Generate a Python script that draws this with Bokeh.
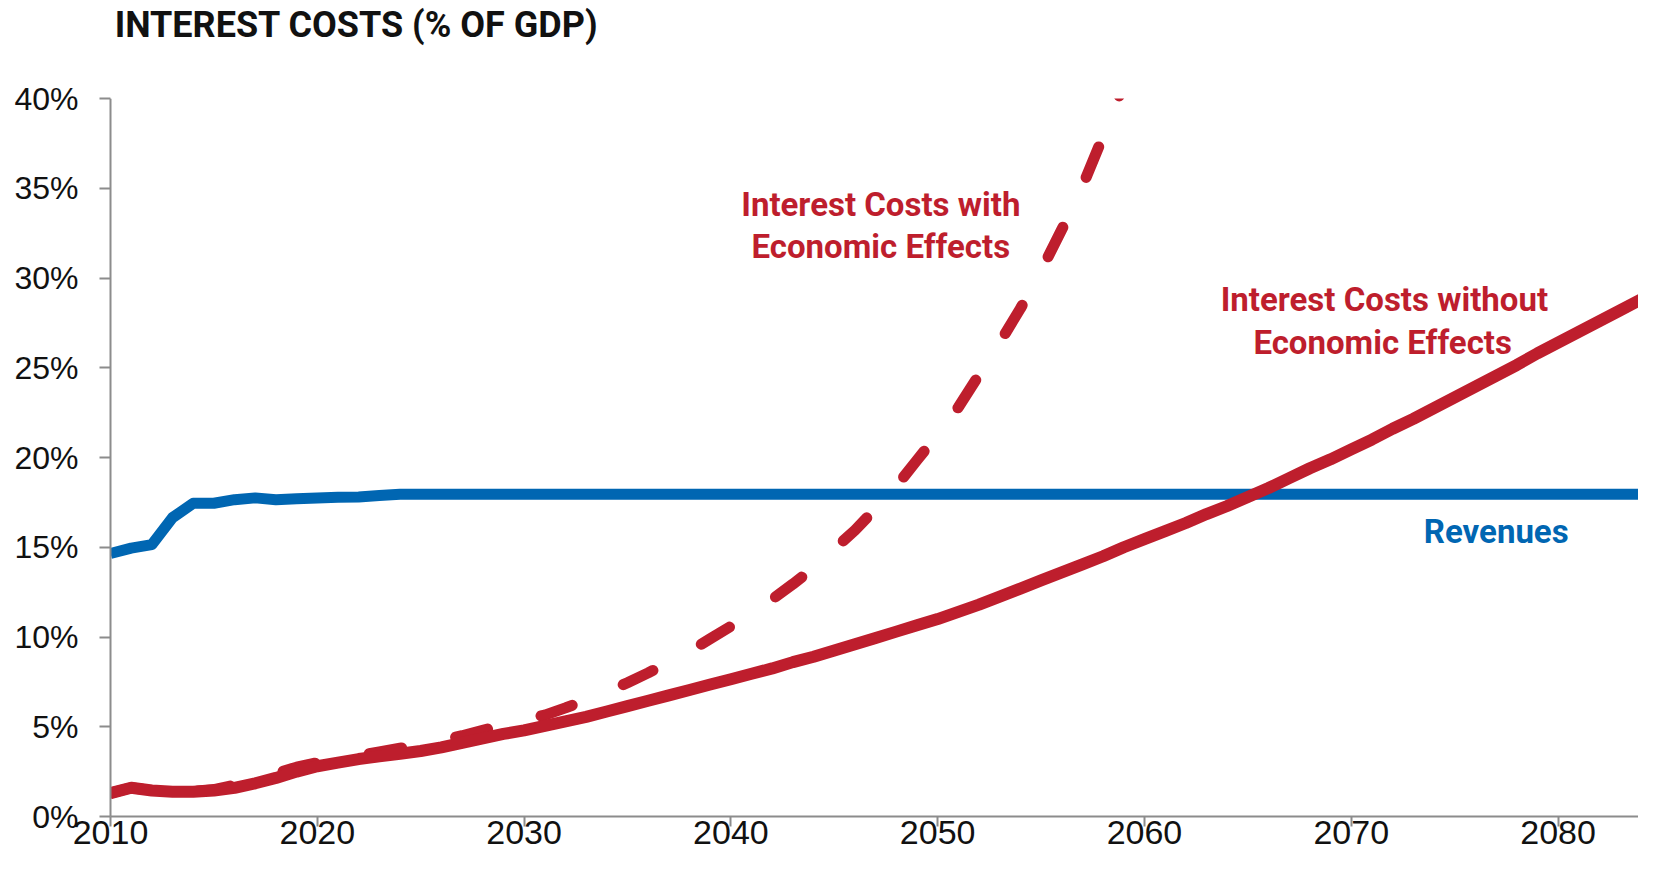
from bokeh.plotting import figure
from bokeh.models import FixedTicker, PrintfTickFormatter, Label, BoxAnnotation, Range1d
from bokeh.embed import file_html
from bokeh.resources import INLINE

# ---- data ----
rev_years = [2010, 2011, 2012, 2013, 2014, 2015, 2016, 2017, 2018, 2019, 2020,
             2021, 2022, 2023, 2024, 2085]
revenues = [14.65, 14.95, 15.15, 16.65, 17.45, 17.45, 17.65, 17.75, 17.65, 17.7, 17.75,
            17.78, 17.8, 17.88, 17.95, 17.95]

base_years = list(range(2010, 2086))
interest_without = [1.3, 1.6, 1.45, 1.38, 1.38, 1.45, 1.6, 1.85, 2.15, 2.5,
                    2.8, 3.0, 3.2, 3.35, 3.5, 3.65, 3.85, 4.1, 4.35, 4.6,
                    4.8, 5.05, 5.3, 5.55, 5.85, 6.15, 6.45, 6.75, 7.05, 7.35,
                    7.65, 7.95, 8.25, 8.6, 8.9, 9.25, 9.6, 9.95, 10.3, 10.65,
                    11.0, 11.4, 11.8, 12.25, 12.7, 13.15, 13.6, 14.05, 14.5, 15.0,
                    15.45, 15.9, 16.35, 16.85, 17.3, 17.8, 18.3, 18.85, 19.4, 19.9,
                    20.45, 21.0, 21.6, 22.15, 22.75, 23.35, 23.95, 24.55, 25.15, 25.8,
                    26.4, 27.0, 27.6, 28.2, 28.8, 29.4]

econ_years = list(range(2010, 2061))
interest_with = [1.3, 1.6, 1.45, 1.4, 1.4, 1.5, 1.75, 2.0, 2.4, 2.75,
                 3.0, 3.2, 3.4, 3.6, 3.8, 4.0, 4.25, 4.5, 4.8, 5.1,
                 5.4, 5.65, 6.05, 6.5, 6.95, 7.45, 8.0, 8.6, 9.2, 9.9,
                 10.6, 11.35, 12.1, 12.95, 13.85, 14.9, 15.95, 17.15, 18.4, 19.85,
                 21.3, 22.8, 24.6, 26.4, 28.3, 30.4, 32.7, 35.1, 37.9, 40.8,
                 44.0]

x_ticks = [2010, 2020, 2030, 2040, 2050, 2060, 2070, 2080]
y_ticks = [0, 5, 10, 15, 20, 25, 30, 35, 40]
y_axis_max = 40

title_text = "INTEREST COSTS (% OF GDP)"
label_with = ["Interest Costs with", "Economic Effects"]
label_without = ["Interest Costs without", "Economic Effects"]
label_revenues = "Revenues"

RED = "#BE1E2D"
BLUE = "#0066B2"
AXIS = "#8C8C8C"
TICK_FONT = "Liberation Sans"
BOLD_FONT = "Roboto"

# the frame reaches the top of the canvas so that the title can sit inside it;
# the y axis itself only spans 0-40 %
p = figure(width=1638, height=859, x_range=Range1d(2010, 2083.89),
           y_range=Range1d(0, 45.46),
           output_backend="svg", toolbar_location=None,
           min_border_left=110, min_border_right=0, min_border_top=0,
           min_border_bottom=43)

p.outline_line_color = None
p.xgrid.grid_line_color = None
p.ygrid.grid_line_color = None
p.background_fill_color = "white"
p.border_fill_color = "white"

for ax in (p.xaxis[0], p.yaxis[0]):
    ax.axis_line_color = AXIS
    ax.axis_line_width = 2
    ax.major_tick_line_color = AXIS
    ax.major_tick_line_width = 2
    ax.minor_tick_line_color = None
    ax.major_tick_in = 0
    ax.major_label_text_font = TICK_FONT
    ax.major_label_text_color = "#111111"

p.xaxis[0].ticker = FixedTicker(ticks=x_ticks)
p.xaxis[0].formatter = PrintfTickFormatter(format="%d")
p.xaxis[0].major_tick_out = 10
p.xaxis[0].major_label_standoff = -6
p.xaxis[0].major_label_text_font_size = "34px"

p.yaxis[0].ticker = FixedTicker(ticks=y_ticks)
p.yaxis[0].formatter = PrintfTickFormatter(format="%d%%")
p.yaxis[0].bounds = (0, y_axis_max)
p.yaxis[0].major_tick_out = 11
p.yaxis[0].major_label_standoff = 21
p.yaxis[0].major_label_text_font_size = "32px"

p.line(rev_years, revenues, line_color=BLUE, line_width=11, line_join="round")
p.line(econ_years, interest_with, line_color=RED, line_width=11,
       line_dash="33 55", line_cap="round", line_join="round")
p.line(base_years, interest_without, line_color=RED, line_width=12, line_join="round")

# everything above the 40 % line is blank, as in the original chart
p.add_layout(BoxAnnotation(bottom=y_axis_max, fill_color="white", fill_alpha=1.0,
                           line_color=None))

def add_label(x, y, text, color, size="33px", align="center"):
    p.add_layout(Label(x=x, y=y, text=text, text_color=color,
                       text_font=BOLD_FONT, text_font_style="bold",
                       text_font_size=size, text_align=align,
                       text_baseline="middle"))

add_label(2010.2, 44.09, title_text, "#111111", size="36px", align="left")

add_label(2047.25, 34.09, label_with[0], RED)
add_label(2047.25, 31.75, label_with[1], RED)
add_label(2071.6, 28.80, label_without[0], RED)
add_label(2071.52, 26.41, label_without[1], RED)
add_label(2077.01, 15.85, label_revenues, BLUE)

open("out.html", "w").write(file_html(p, INLINE))
